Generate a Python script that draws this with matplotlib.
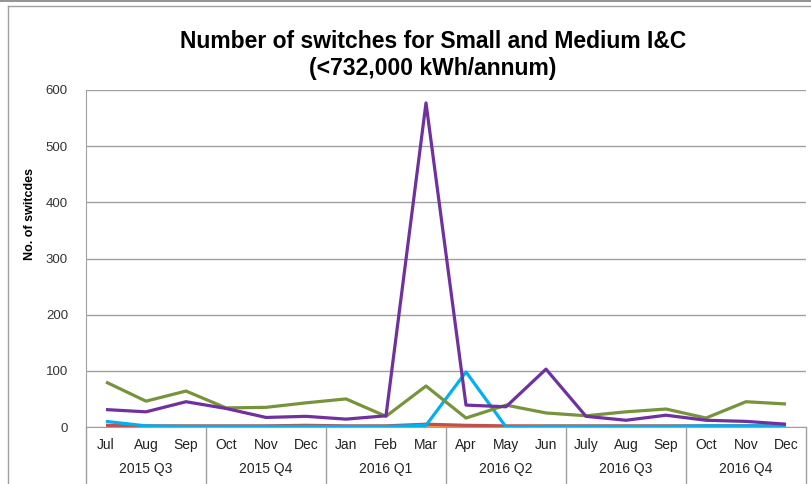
import matplotlib
matplotlib.use("Agg")
import matplotlib.pyplot as plt
from matplotlib.lines import Line2D
import matplotlib.transforms as mtransforms

plt.rcParams['font.family'] = ['Liberation Sans', 'DejaVu Sans']

months = ["Jul", "Aug", "Sep", "Oct", "Nov", "Dec", "Jan", "Feb", "Mar",
          "Apr", "May", "Jun", "July", "Aug", "Sep", "Oct", "Nov", "Dec"]
quarters = ["2015 Q3", "2015 Q4", "2016 Q1", "2016 Q2", "2016 Q3", "2016 Q4"]

series_cyan = [10, 2, 1, 1, 1, 1, 1, 1, 3, 98, 0, 1, 1, 1, 1, 2, 2, 2]
series_red = [3, 2, 2, 2, 2, 3, 2, 2, 5, 3, 2, 2, 2, 2, 2, 2, 2, 2]
series_orange = [1, 1, 1, 1, 1, 1, 1, 1, 2, 1, 1, 1, 1, 1, 1, 1, 1, 1]
series_green = [80, 46, 64, 34, 35, 43, 50, 19, 73, 16, 39, 25, 20, 27, 32, 16, 45, 41]
series_purple = [31, 27, 45, 33, 17, 19, 14, 20, 577, 39, 36, 103, 19, 12, 21, 12, 10, 5]

W, H = 812, 484
fig = plt.figure(figsize=(W / 100, H / 100), dpi=100)
L, R, T, B = 86, 806, 90, 427
ax = fig.add_axes([L / W, 1 - B / H, (R - L) / W, (B - T) / H])

x = list(range(len(months)))
lw = 2.3
ax.plot(x, series_orange, color="#F79646", lw=lw, solid_capstyle="butt")
ax.plot(x, series_red, color="#C0504D", lw=lw, solid_capstyle="butt")
ax.plot(x, series_cyan, color="#00B0F0", lw=lw, solid_capstyle="butt")
ax.plot(x, series_green, color="#77933C", lw=lw, solid_capstyle="butt")
ax.plot(x, series_purple, color="#7030A0", lw=lw, solid_capstyle="butt")

ax.set_xlim(-0.5, len(months) - 0.5)
ax.set_ylim(0, 600)
ax.set_yticks(range(0, 601, 100))
ax.yaxis.grid(True, color="#A0A0A0", lw=1)
ax.set_axisbelow(True)
for s in ["top", "right"]:
    ax.spines[s].set_visible(False)
ax.spines["left"].set_color("#A0A0A0")
ax.spines["bottom"].set_color("#A0A0A0")
ax.tick_params(axis="y", length=0, pad=13, labelsize=9.5, labelcolor="#333333")
ax.set_xticks(x)
ax.set_xticklabels(months)
ax.tick_params(axis="x", length=0, pad=8, labelsize=10, labelcolor="#222222")

fig.text(30 / W, 1 - 214 / H, "No. of switcdes", rotation=90, ha="center",
         va="center", fontsize=9, fontweight="bold")

# quarter group labels and separators
trans = mtransforms.blended_transform_factory(ax.transData, ax.transAxes)
ybot = -(H - B) / (B - T)
for k in range(len(quarters) + 1):
    xs = -0.5 + 3 * k
    ax.add_line(Line2D([xs, xs], [0, ybot], transform=trans, color="#A0A0A0",
                       lw=1, clip_on=False))
for k, q in enumerate(quarters):
    ax.text(1 + 3 * k, -(469 - B) / (B - T), q, transform=trans, ha="center",
            va="center", fontsize=10, color="#222222")

fig.text(433 / W, 1 - 42 / H, "Number of switches for Small and Medium I&C",
         ha="center", va="center", fontsize=16.5, fontweight="bold")
fig.text(433 / W, 1 - 68 / H, "(<732,000 kWh/annum)",
         ha="center", va="center", fontsize=16.5, fontweight="bold")

# outer frame
fig.add_artist(Line2D([0, 1], [1 - 1 / H, 1 - 1 / H], transform=fig.transFigure,
                      color="#808080", lw=1.2))
fig.add_artist(Line2D([8 / W, 1], [1 - 6 / H, 1 - 6 / H], transform=fig.transFigure,
                      color="#A0A0A0", lw=1))
fig.add_artist(Line2D([8 / W, 8 / W], [0, 1 - 6 / H], transform=fig.transFigure,
                      color="#A0A0A0", lw=1))

fig.savefig("out.png", dpi=100)
